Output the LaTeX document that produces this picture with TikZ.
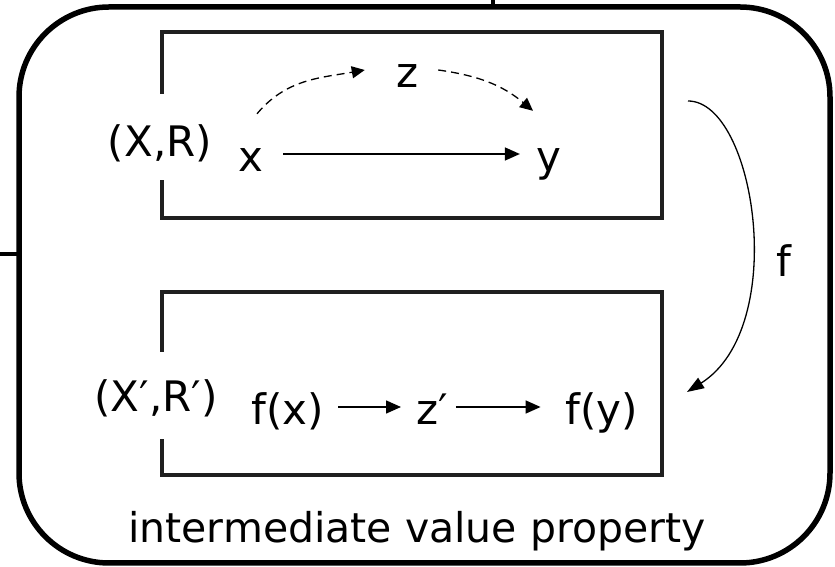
\documentclass[tikz,border=0pt]{standalone}
\usepackage{fontspec}
\setmainfont{DejaVu Sans}
\usetikzlibrary{arrows.meta,positioning,calc}

\begin{document}
\begin{tikzpicture}[x=1pt,y=1pt,
  every node/.style={font=\fontsize{42}{50}\selectfont,inner sep=0pt},
  lbl/.style={anchor=base,text height=40pt,text depth=4pt},
  outer/.style={line width=5.5pt,rounded corners=90pt},
  bx/.style={line width=4.5pt,color=black!88,line join=miter},
  arr/.style={-{Triangle[length=15pt,width=13pt]},line width=1.5pt},
  darr/.style={-{Triangle[length=13pt,width=12pt]},line width=1.3pt,dash pattern=on 8pt off 5pt}]
\useasboundingbox (0,0) rectangle (835,567);
\draw[outer] (19,560) rectangle (830,4);
\draw[line width=4pt] (493,567) -- (493,560);
\draw[line width=4pt] (0,313) -- (19,313);
% upper set
\draw[bx] (162,473) -- (162,535) -- (662,535) -- (662,349) -- (162,349) -- (162,387);
\node[lbl] (xr) at (160,410) {(X,R)};
\node[lbl] (x) at (251,395) {x};
\node[lbl] (y) at (549,395) {y};
\node[lbl] (z) at (408,479) {z};
\draw[arr,shorten <=19.5pt,shorten >=16.5pt] (x) -- (y);
\draw[darr] ([xshift=6pt,yshift=18pt]x.north) to[out=50,in=190] ([xshift=-32pt]z.west);
\draw[darr] ([xshift=19pt]z.east) to[out=-8,in=140] ([xshift=-16pt,yshift=21pt]y.north);
% lower set
\draw[bx] (162,215) -- (162,275) -- (662,275) -- (662,92) -- (162,92) -- (162,128);
\node[lbl] (xrp) at (156,155) {(X′,R′)};
\node[lbl] (fx) at (288,142) {f(x)};
\node[lbl] (zp) at (432,142) {z′};
\node[lbl] (fy) at (602,142) {f(y)};
\draw[arr,shorten <=14pt,shorten >=15pt] (fx) -- (zp);
\draw[arr,shorten <=8pt,shorten >=25pt] (zp) -- (fy);
% the map f
\coordinate (fsrc) at (688,466);
\coordinate (fdst) at (687,175);
\draw[arr,line width=1.3pt,-{Triangle[length=17pt,width=12pt]}] (fsrc) .. controls (755,466) and (790,240) .. (fdst);
\node[lbl] (f) at (784,290) {f};
\node[anchor=base,font=\fontsize{41}{49}\selectfont] (ivp) at (417,24) {intermediate value property};
\end{tikzpicture}
\end{document}
